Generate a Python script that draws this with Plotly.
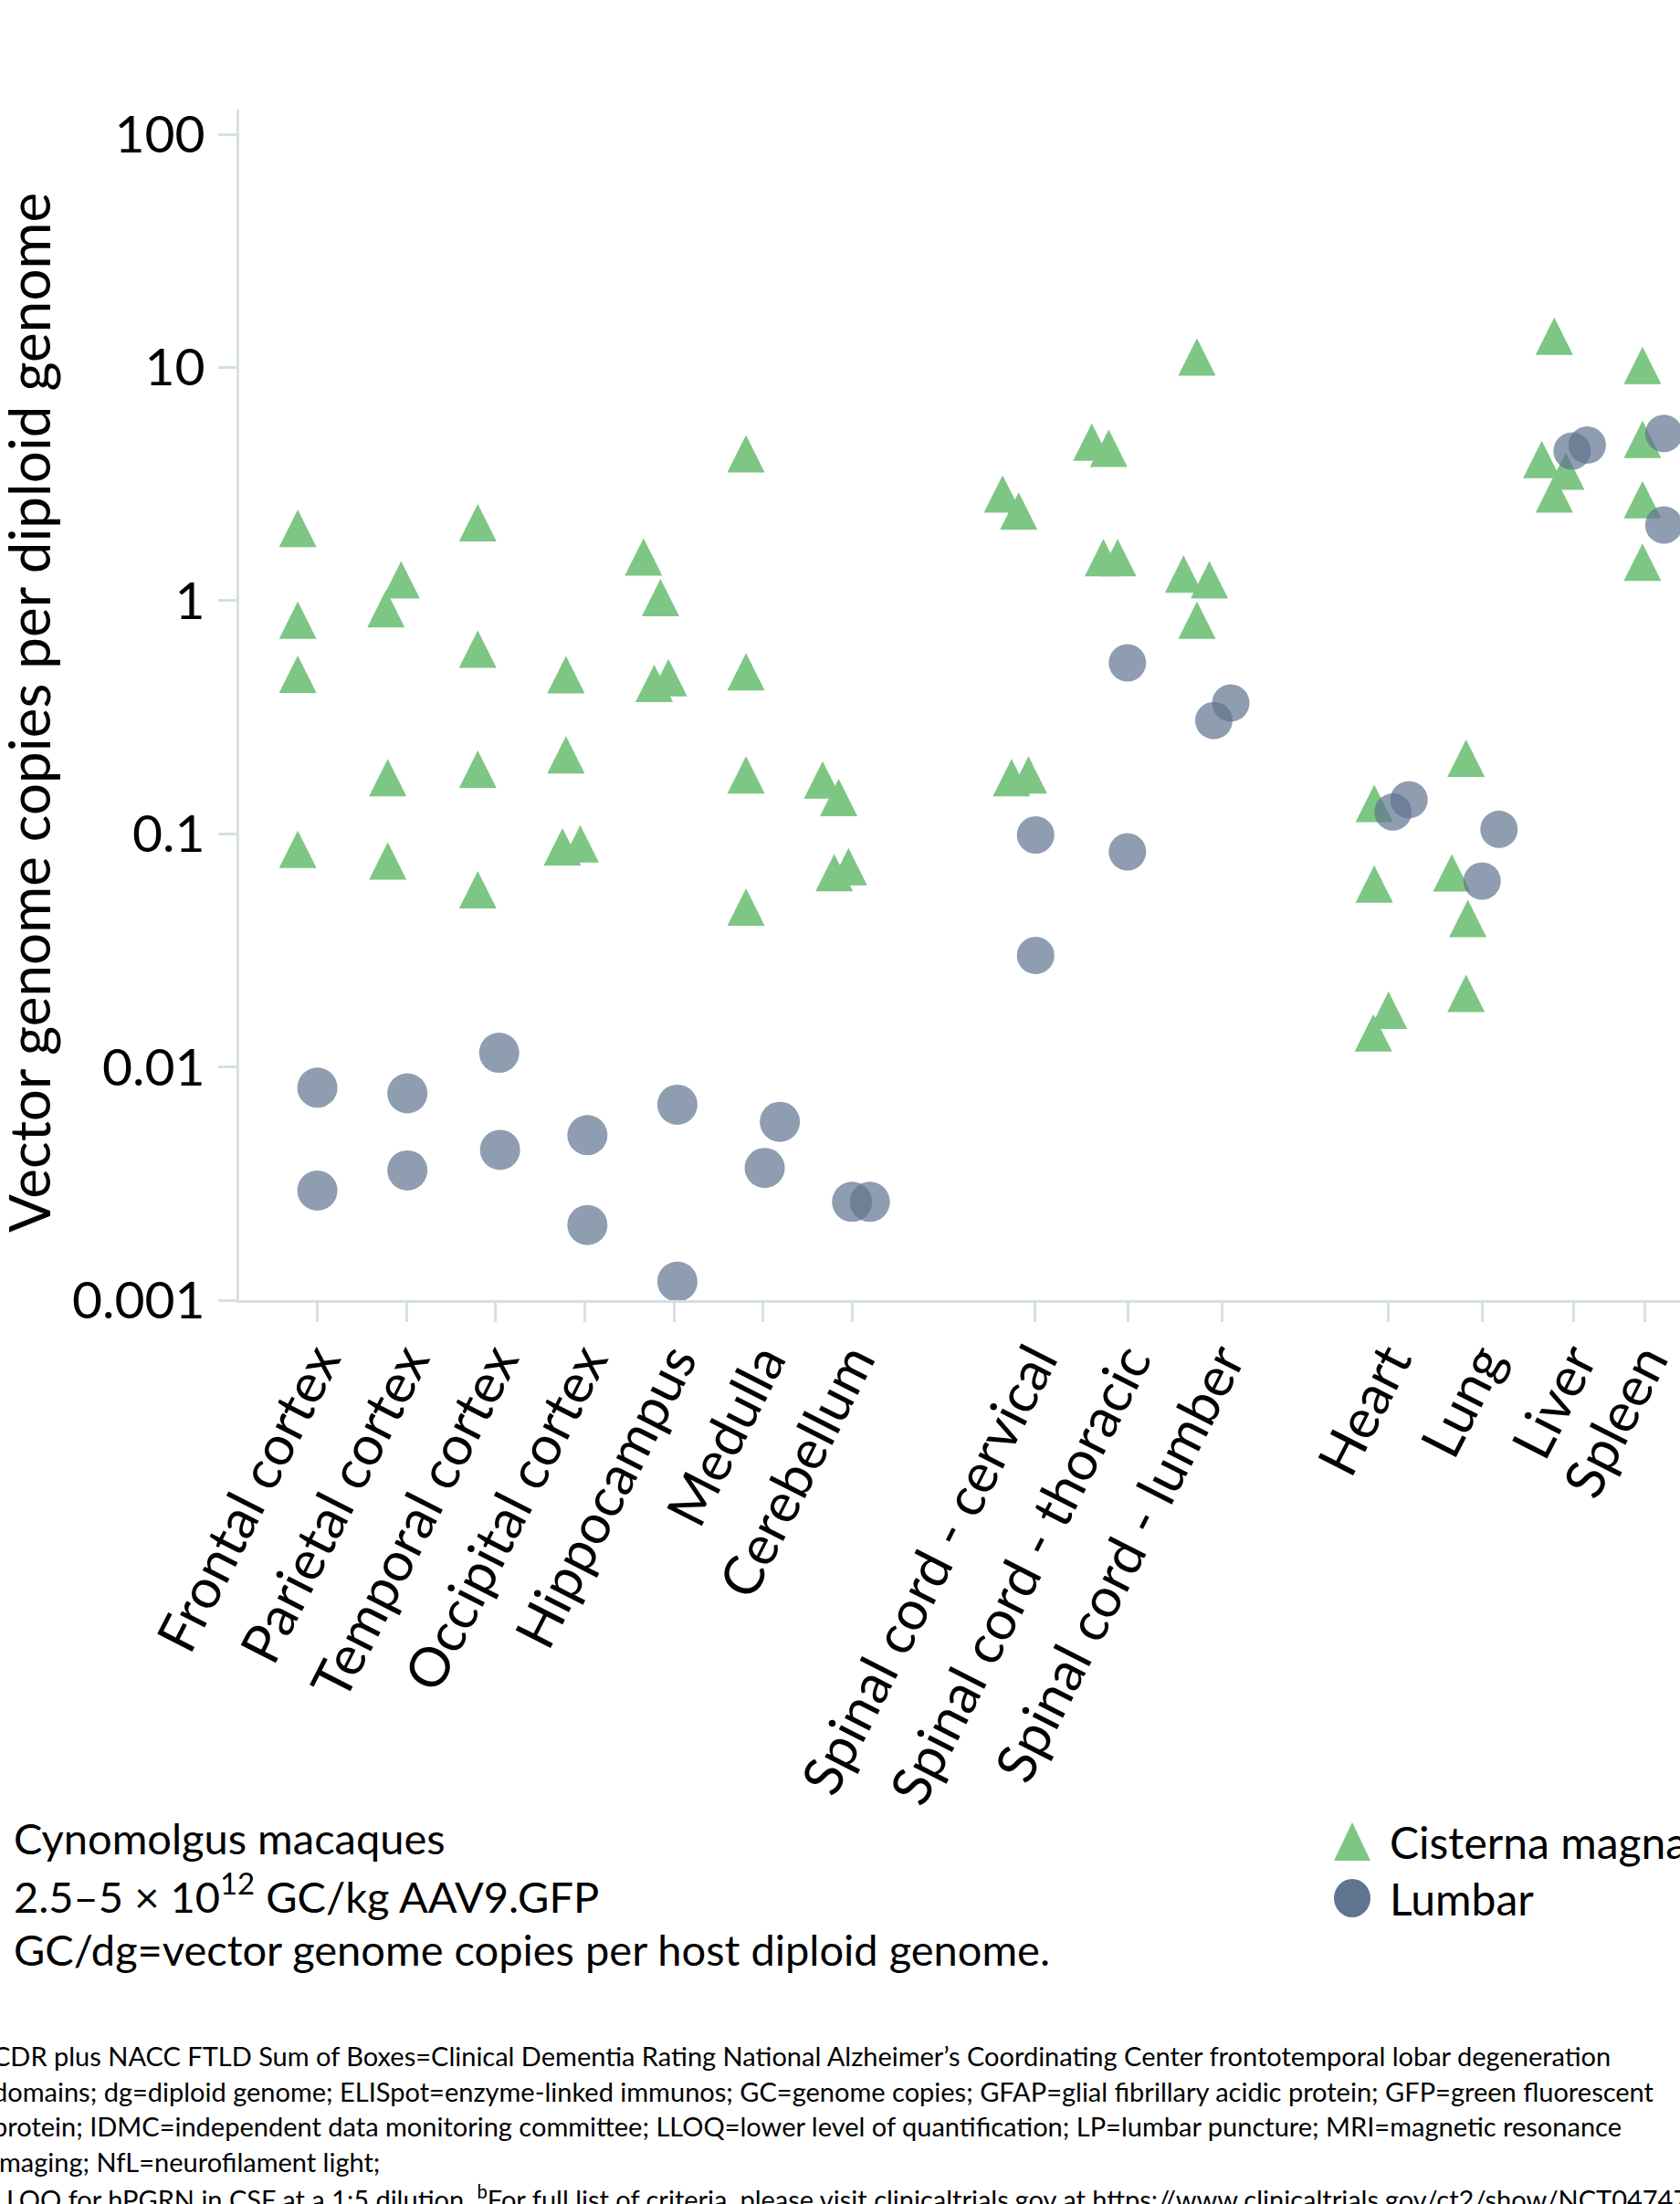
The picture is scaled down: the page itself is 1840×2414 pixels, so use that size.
import plotly.graph_objects as go

# ---------------- data ----------------
categories = ["Frontal cortex", "Parietal cortex", "Temporal cortex", "Occipital cortex",
              "Hippocampus", "Medulla", "Cerebellum",
              "Spinal cord - cervical", "Spinal cord - thoracic", "Spinal cord - lumber",
              "Heart", "Lung", "Liver", "Spleen"]
category_pos = [0, 1, 2, 3, 4, 5, 6, 8.05, 9.1, 10.15, 12.02, 13.07, 14.1, 14.9]
brain_regions = categories[:7]

# Cisterna magna (4 animals per tissue)
cm_tissue = (["Frontal cortex"] * 4 + ["Parietal cortex"] * 4 + ["Temporal cortex"] * 4 +
             ["Occipital cortex"] * 4 + ["Hippocampus"] * 4 + ["Medulla"] * 4 +
             ["Cerebellum"] * 4 + ["Spinal cord - cervical"] * 4 +
             ["Spinal cord - thoracic"] * 4 + ["Spinal cord - lumber"] * 4 +
             ["Heart"] * 4 + ["Lung"] * 4 + ["Liver"] * 4 + ["Spleen"] * 4)
cm_value = [2.04, 0.824, 0.483, 0.0857,
            1.23, 0.923, 0.174, 0.0764,
            2.16, 0.619, 0.189, 0.0575,
            0.481, 0.218, 0.0879, 0.0906,
            1.54, 1.03, 0.442, 0.467,
            4.26, 0.495, 0.179, 0.0485,
            0.170, 0.143, 0.0682, 0.0722,
            2.87, 2.42, 0.174, 0.179,
            4.78, 4.50, 1.53, 1.53,
            11.1, 1.30, 1.23, 0.825,
            0.135, 0.0609, 0.0175, 0.0140,
            0.211, 0.068, 0.0433, 0.0207,
            13.6, 4.03, 3.59, 2.87,
            10.2, 4.91, 2.71, 1.46]
cm_jitter = [-0.22, -0.22, -0.22, -0.22,
             -0.06, -0.23, -0.21, -0.21,
             -0.20, -0.20, -0.20, -0.20,
             -0.21, -0.21, -0.25, -0.05,
             -0.34, -0.15, -0.22, -0.06,
             -0.19, -0.19, -0.19, -0.19,
             -0.33, -0.15, -0.20, -0.04,
             -0.36, -0.18, -0.26, -0.07,
             -0.41, -0.22, -0.28, -0.12,
             -0.28, -0.43, -0.14, -0.28,
             -0.16, -0.16, 0.00, -0.17,
             -0.18, -0.34, -0.16, -0.18,
             -0.22, -0.36, -0.09, -0.22,
             -0.03, -0.03, -0.03, -0.03]

# Lumbar (2 animals per tissue)
lp_tissue = [c for c in categories for _ in range(2)]
lp_value = [0.00815, 0.00295,
            0.00771, 0.0036,
            0.0115, 0.00441,
            0.0051, 0.0021,
            0.00689, 0.0012,
            0.00369, 0.00582,
            0.00264, 0.00264,
            0.0989, 0.0301,
            0.541, 0.0837,
            0.306, 0.364,
            0.124, 0.140,
            0.0627, 0.1045,
            4.38, 4.65,
            5.21, 2.11]
lp_jitter = [0.00, 0.00,
             0.01, 0.01,
             0.04, 0.05,
             0.03, 0.03,
             0.04, 0.04,
             0.02, 0.19,
             0.00, 0.20,
             0.01, 0.01,
             -0.01, -0.01,
             -0.09, 0.10,
             0.05, 0.23,
             0.00, 0.19,
             -0.02, 0.15,
             0.21, 0.21]

y_tickvals = [0.001, 0.01, 0.1, 1, 10, 100]
y_ticktext = ["0.001", "0.01", "0.1", "1", "10", "100"]

series_names = ["Cisterna magna", "Lumbar"]
y_title = "Vector genome copies per diploid genome"
notes = ["Cynomolgus macaques",
         "2.5–5 × 10<sup>12</sup> GC/kg AAV9.GFP",
         "GC/dg=vector genome copies per host diploid genome."]
footnotes = [
    "CDR plus NACC FTLD Sum of Boxes=Clinical Dementia Rating National Alzheimer’s Coordinating Center frontotemporal lobar degeneration",
    "domains; dg=diploid genome; ELISpot=enzyme-linked immunos; GC=genome copies; GFAP=glial fibrillary acidic protein; GFP=green fluorescent",
    "protein; IDMC=independent data monitoring committee; LLOQ=lower level of quantification; LP=lumbar puncture; MRI=magnetic resonance",
    "imaging; NfL=neurofilament light;",
    "LLOQ for hPGRN in CSF at a 1:5 dilution. <sup>b</sup>For full list of criteria, please visit clinicaltrials.gov at https://www.clinicaltrials.gov/ct2/show/NCT047474",
]

# ---------------- style / layout ----------------
W, H = 1840, 2414
ML, MR, MT, MB = 262, 0, 120, 990
GREEN = "#7DC684"
SLATE = "#60738F"
AXIS = "#D6DFE3"
FONT = "Lato, 'Open Sans', sans-serif"
TRI = 41

pos = dict(zip(categories, category_pos))


def px_x(px):
    return (px - ML) / (W - ML - MR)


def px_y(py):
    return (H - MB - py) / (H - MT - MB)


fig = go.Figure()

fig.add_trace(go.Scatter(
    x=[pos[t] + j for t, j in zip(cm_tissue, cm_jitter)], y=cm_value,
    mode="markers", name=series_names[0], cliponaxis=False,
    marker=dict(symbol="arrow-down", angle=180, standoff=TRI / 2, size=TRI,
                color=GREEN, line=dict(width=0)),
))
fig.add_trace(go.Scatter(
    x=[pos[t] + j for t, j in zip(lp_tissue, lp_jitter)], y=lp_value,
    mode="markers", name=series_names[1], cliponaxis=False,
    marker=dict(symbol="circle", size=[44 if t in brain_regions else 41 for t in lp_tissue],
                color=SLATE, line=dict(width=0)),
))

annotations = []
annotations.append(dict(text=y_title, textangle=-90, xref="paper", yref="paper",
                        x=px_x(31), y=px_y(781), xanchor="center", yanchor="middle",
                        showarrow=False, font=dict(size=62, color="black", family=FONT)))
for i, t in enumerate(notes):
    annotations.append(dict(text=t, xref="paper", yref="paper", x=px_x(13), y=px_y(2013 + 61 * i),
                            xanchor="left", yanchor="middle", showarrow=False,
                            font=dict(size=47, color="black", family=FONT)))
for i, t in enumerate(series_names):
    annotations.append(dict(text=t, xref="paper", yref="paper", x=px_x(1520), y=px_y(2017 + 62 * i),
                            xanchor="left", yanchor="middle", showarrow=False,
                            font=dict(size=48, color="black", family=FONT)))
fy = [2251, 2290, 2328, 2367, 2407]
for t, yy in zip(footnotes, fy):
    annotations.append(dict(text=t, xref="paper", yref="paper", x=px_x(-10), y=px_y(yy),
                            xanchor="left", yanchor="middle", showarrow=False,
                            font=dict(size=29, color="black", family=FONT)))

shapes = [
    dict(type="path", xref="paper", yref="paper", xsizemode="pixel", ysizemode="pixel",
         xanchor=px_x(1481), yanchor=px_y(2017),
         path="M -20,-21 L 20,-21 L 0,21 Z", fillcolor=GREEN, line=dict(width=0)),
    dict(type="circle", xref="paper", yref="paper", xsizemode="pixel", ysizemode="pixel",
         xanchor=px_x(1481), yanchor=px_y(2079), x0=-20, x1=20, y0=-21, y1=21,
         fillcolor=SLATE, line=dict(width=0)),
]

fig.update_layout(
    width=W, height=H, autosize=False,
    margin=dict(l=ML, r=MR, t=MT, b=MB, pad=0),
    paper_bgcolor="white", plot_bgcolor="white",
    showlegend=False,
    font=dict(family=FONT, color="black"),
    annotations=annotations, shapes=shapes,
    xaxis=dict(range=[-0.877, 15.291], tickvals=category_pos, ticktext=categories,
               tickangle=-63, ticks="outside", ticklen=21, tickwidth=3, tickcolor=AXIS,
               showline=True, linecolor=AXIS, linewidth=3, showgrid=False, zeroline=False,
               ticklabelstandoff=-16, ticklabeloverflow="allow",
               tickfont=dict(size=60, family=FONT, color="black")),
    yaxis=dict(type="log", range=[-3, 2.106], tickvals=y_tickvals, ticktext=y_ticktext,
               ticks="outside", ticklen=20, tickwidth=3, tickcolor=AXIS,
               showline=True, linecolor=AXIS, linewidth=3, showgrid=False, zeroline=False,
               ticklabelstandoff=3, ticklabeloverflow="allow",
               tickfont=dict(size=57, family=FONT, color="black")),
)

fig.write_html("out.html", config={"displayModeBar": False},
               post_script="document.body.style.margin='0';")
